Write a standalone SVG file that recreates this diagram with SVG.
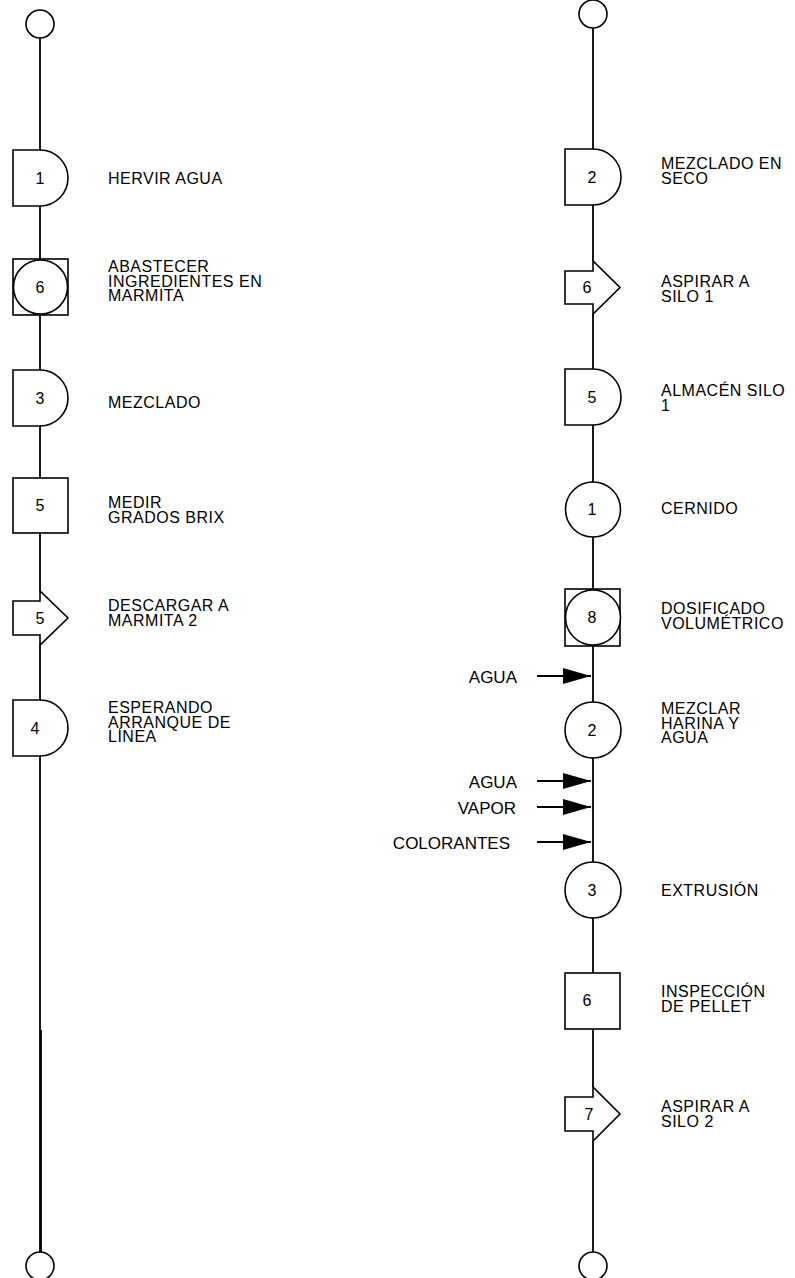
<svg xmlns="http://www.w3.org/2000/svg" width="795" height="1278" viewBox="0 0 795 1278">
<style>
.s{fill:#fff;stroke:#000;stroke-width:1.6}
.c{stroke:#000;stroke-width:1.8;fill:none}
.n{font-family:"Liberation Sans",Arial,sans-serif;font-size:16px;text-anchor:middle;fill:#000}
.l{font-family:"Liberation Sans",Arial,sans-serif;font-size:16px;letter-spacing:0.5px;fill:#000}
.a{font-family:"Liberation Sans",Arial,sans-serif;font-size:17px;fill:#000;text-anchor:end}
</style>
<defs>
<marker id="ah" markerUnits="userSpaceOnUse" markerWidth="28" markerHeight="16" refX="28" refY="8" orient="auto">
<path d="M0,0 L28,8 L0,16 Z" fill="#000"/>
</marker>
</defs>
<g id="connectors">
<line class="c" x1="40" y1="38" x2="40" y2="150"/>
<line class="c" x1="40" y1="206" x2="40" y2="259"/>
<line class="c" x1="40" y1="315" x2="40" y2="370"/>
<line class="c" x1="40" y1="426" x2="40" y2="478"/>
<line class="c" x1="40" y1="533" x2="40" y2="591"/>
<line class="c" x1="40" y1="645" x2="40" y2="700"/>
<line class="c" x1="40" y1="756" x2="40" y2="1252"/>
<line class="c" x1="41" y1="1030" x2="41" y2="1252"/>
<line class="c" x1="593" y1="28" x2="593" y2="149"/>
<line class="c" x1="593" y1="205" x2="593" y2="261"/>
<line class="c" x1="593" y1="314" x2="593" y2="369"/>
<line class="c" x1="593" y1="425" x2="593" y2="482"/>
<line class="c" x1="593" y1="537" x2="593" y2="589"/>
<line class="c" x1="593" y1="646" x2="593" y2="702"/>
<line class="c" x1="593" y1="758" x2="593" y2="862"/>
<line class="c" x1="593" y1="918" x2="593" y2="973"/>
<line class="c" x1="593" y1="1029" x2="593" y2="1087"/>
<line class="c" x1="593" y1="1141" x2="593" y2="1252"/>
<line class="c" x1="537" y1="676" x2="591" y2="676" marker-end="url(#ah)"/>
<line class="c" x1="537" y1="781" x2="591" y2="781" marker-end="url(#ah)"/>
<line class="c" x1="537" y1="807" x2="591" y2="807" marker-end="url(#ah)"/>
<line class="c" x1="537" y1="842" x2="591" y2="842" marker-end="url(#ah)"/>
</g>
<g id="in-agua1"><text class="a" x="517" y="683">AGUA</text></g>
<g id="in-agua2"><text class="a" x="517" y="788">AGUA</text></g>
<g id="in-vapor"><text class="a" x="516" y="814">VAPOR</text></g>
<g id="in-colorantes"><text class="a" x="510" y="849">COLORANTES</text></g>

<g id="L-start"><circle class="s" cx="40" cy="24" r="14"/></g>
<g id="L-1"><path class="s" d="M13,150 H40 A28,28 0 0 1 40,206 H13 Z"/><text class="n" x="40" y="184">1</text>
<text class="l" x="108" y="184">HERVIR AGUA</text></g>
<g id="L-6"><rect class="s" x="13" y="259" width="55" height="56"/><circle class="s" cx="40.5" cy="287" r="27"/><text class="n" x="40" y="293">6</text>
<text class="l" x="108" y="272">ABASTECER</text><text class="l" x="108" y="286.5">INGREDIENTES EN</text><text class="l" x="108" y="301">MARMITA</text></g>
<g id="L-3"><path class="s" d="M13,370 H40 A28,28 0 0 1 40,426 H13 Z"/><text class="n" x="40" y="404">3</text>
<text class="l" x="108" y="408">MEZCLADO</text></g>
<g id="L-5a"><rect class="s" x="13" y="478" width="55" height="55"/><text class="n" x="40" y="511">5</text>
<text class="l" x="108" y="508">MEDIR</text><text class="l" x="108" y="522.5">GRADOS BRIX</text></g>
<g id="L-5b"><path class="s" d="M13,601 H40 V591 L68,618 L40,645 V635 H13 Z"/><text class="n" x="40" y="624">5</text>
<text class="l" x="108" y="611">DESCARGAR A</text><text class="l" x="108" y="625.5">MARMITA 2</text></g>
<g id="L-4"><path class="s" d="M13,700 H40 A28,28 0 0 1 40,756 H13 Z"/><text class="n" x="35" y="734">4</text>
<text class="l" x="108" y="713">ESPERANDO</text><text class="l" x="108" y="727.5">ARRANQUE DE</text><text class="l" x="108" y="742">LÍNEA</text></g>
<g id="L-end"><circle class="s" cx="40" cy="1266" r="14"/></g>

<g id="R-start"><circle class="s" cx="593" cy="14" r="14"/></g>
<g id="R-2"><path class="s" d="M565,149 H593 A28,28 0 0 1 593,205 H565 Z"/><text class="n" x="592" y="183">2</text>
<text class="l" x="661" y="169">MEZCLADO EN</text><text class="l" x="661" y="183.5">SECO</text></g>
<g id="R-6a"><path class="s" d="M565,271 H593 V261 L620,287.5 L593,314 V304 H565 Z"/><text class="n" x="587" y="293">6</text>
<text class="l" x="661" y="287">ASPIRAR A</text><text class="l" x="661" y="301.5">SILO 1</text></g>
<g id="R-5"><path class="s" d="M565,369 H593 A28,28 0 0 1 593,425 H565 Z"/><text class="n" x="592" y="403">5</text>
<text class="l" x="661" y="396">ALMACÉN SILO</text><text class="l" x="661" y="410.5">1</text></g>
<g id="R-1"><circle class="s" cx="593" cy="509.5" r="27.5"/><text class="n" x="592" y="515">1</text>
<text class="l" x="661" y="514">CERNIDO</text></g>
<g id="R-8"><rect class="s" x="565" y="589" width="55" height="57"/><circle class="s" cx="593" cy="617.5" r="27.5"/><text class="n" x="592" y="623">8</text>
<text class="l" x="661" y="614">DOSIFICADO</text><text class="l" x="661" y="628.5">VOLUMÉTRICO</text></g>
<g id="R-2b"><circle class="s" cx="593" cy="730" r="28"/><text class="n" x="592" y="736">2</text>
<text class="l" x="661" y="714">MEZCLAR</text><text class="l" x="661" y="728.5">HARINA Y</text><text class="l" x="661" y="743">AGUA</text></g>
<g id="R-3"><circle class="s" cx="593" cy="890" r="28"/><text class="n" x="592" y="896">3</text>
<text class="l" x="661" y="896">EXTRUSIÓN</text></g>
<g id="R-6b"><rect class="s" x="565" y="973" width="55" height="56"/><text class="n" x="587" y="1006">6</text>
<text class="l" x="661" y="997">INSPECCIÓN</text><text class="l" x="661" y="1011.5">DE PELLET</text></g>
<g id="R-7"><path class="s" d="M565,1097 H593 V1087 L620,1114 L593,1141 V1131 H565 Z"/><text class="n" x="589" y="1120">7</text>
<text class="l" x="661" y="1112">ASPIRAR A</text><text class="l" x="661" y="1126.5">SILO 2</text></g>
<g id="R-end"><circle class="s" cx="593" cy="1266" r="14"/></g>
</svg>
